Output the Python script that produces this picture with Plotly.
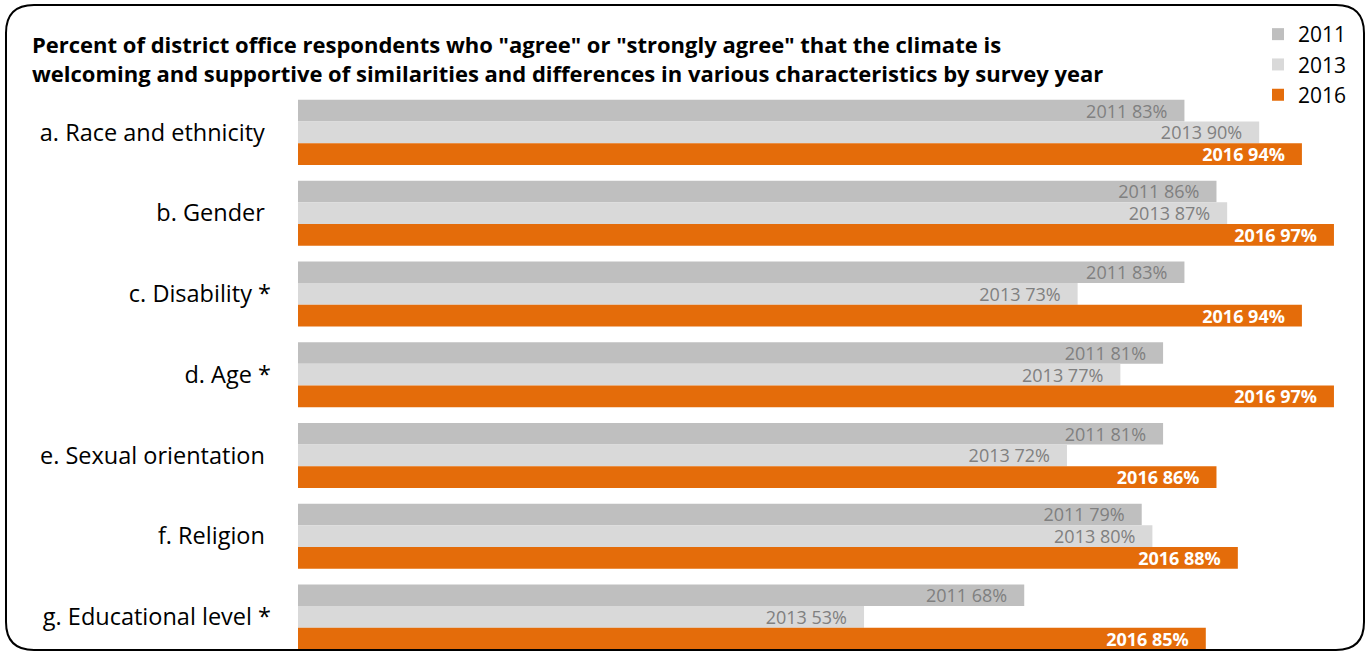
import plotly.graph_objects as go

categories = ["a. Race and ethnicity", "b. Gender", "c. Disability *", "d. Age *",
              "e. Sexual orientation", "f. Religion", "g. Educational level *"]
tick_labels = ["a. Race and ethnicity\u00a0", "b. Gender\u00a0", "c. Disability *", "d. Age *",
               "e. Sexual orientation\u00a0", "f. Religion\u00a0", "g. Educational level *"]
years = ["2011", "2013", "2016"]
v2011 = [83, 86, 83, 81, 81, 79, 68]
v2013 = [90, 87, 73, 77, 72, 80, 53]
v2016 = [94, 97, 94, 97, 86, 88, 85]

colors = {"2011": "#BFBFBF", "2013": "#D9D9D9", "2016": "#E46C0A"}
FONT = "Open Sans"
W, H = 1370, 653
L, R, T, B = 298, 4, 92, 0

fig = go.Figure()
for yr, vals in zip(years, [v2011, v2013, v2016]):
    bold = yr == "2016"
    texts = [f"{yr} {v}%\u00a0\u00a0\u00a0" for v in vals]
    fig.add_trace(go.Bar(
        y=categories, x=vals, orientation="h", name=yr,
        marker=dict(color=colors[yr], line=dict(width=0)),
        text=[f"<b>{t}</b>" if bold else t for t in texts],
        textposition="inside", insidetextanchor="end", constraintext="none",
        textfont=dict(family=FONT, size=18, color="white" if bold else "#808080"),
        hoverinfo="skip",
    ))

def px(x, y):
    return (x - L) / (W - L - R), (H - B - y) / (H - T - B)

def P(x, y):
    a, b = px(x, y)
    return f"{a:.5f},{b:.5f}"

# rounded border frame
x0, y0, x1, y1, r = 6, 5, 1364, 650, 28
path = (f"M{P(x0 + r, y0)} L{P(x1 - r, y0)} Q{P(x1, y0)} {P(x1, y0 + r)} "
        f"L{P(x1, y1 - r)} Q{P(x1, y1)} {P(x1 - r, y1)} "
        f"L{P(x0 + r, y1)} Q{P(x0, y1)} {P(x0, y1 - r)} "
        f"L{P(x0, y0 + r)} Q{P(x0, y0)} {P(x0 + r, y0)} Z")

fig.update_layout(
    width=W, height=H, margin=dict(l=L, r=R, t=T, b=B, autoexpand=False),
    paper_bgcolor="white", plot_bgcolor="white",
    barmode="group", bargap=0.195, bargroupgap=0,
    font=dict(family=FONT, color="#000000"),
    xaxis=dict(range=[0, 100], visible=False, fixedrange=True),
    yaxis=dict(categoryorder="array", categoryarray=categories,
               tickvals=categories, ticktext=tick_labels,
               range=[6.447, -0.5], showgrid=False, showline=False, zeroline=False, fixedrange=True,
               ticks="", ticklabelstandoff=26, tickfont=dict(family=FONT, size=23.5, color="#000000")),
    legend=dict(x=px(1352, 0)[0], xanchor="right", y=px(0, 14)[1], yanchor="top",
                font=dict(family=FONT, size=21, color="#000000"), bgcolor="rgba(0,0,0,0)",
                traceorder="normal", itemwidth=30),
    shapes=[dict(type="path", xref="paper", yref="paper", path=path,
                 line=dict(color="black", width=2), fillcolor="rgba(0,0,0,0)", layer="above")],
    annotations=[dict(xref="paper", yref="paper", x=px(30, 0)[0], y=px(0, 27)[1],
                      xanchor="left", yanchor="top", align="left", showarrow=False,
                      text="<b>Percent of district office respondents who \"agree\" or \"strongly agree\" that the climate is<br>"
                           "welcoming and supportive of similarities and differences in various characteristics by survey year</b>",
                      font=dict(family=FONT, size=22, color="#000000"))],
)

fig.write_html("out.html", config={"displayModeBar": False},
               post_script="document.body.style.margin='0';document.body.style.overflow='hidden';")
